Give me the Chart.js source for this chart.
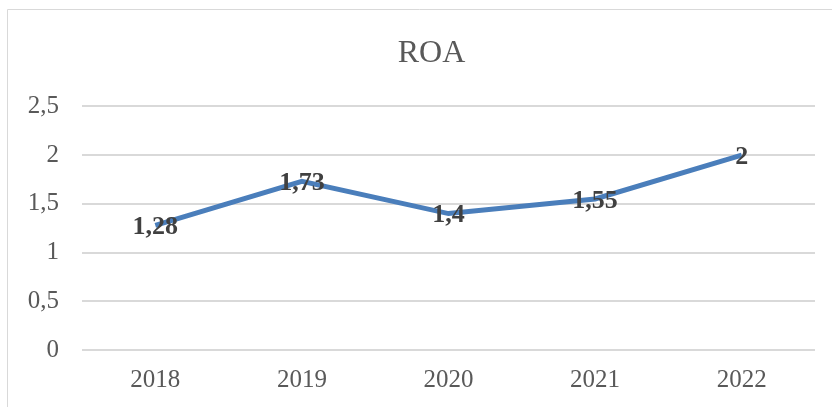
<!DOCTYPE html>
<html>
<head>
<meta charset="utf-8">
<script src="https://cdn.jsdelivr.net/npm/chart.js@4/dist/chart.umd.min.js"></script>
<style>
  html, body { margin: 0; padding: 0; background: #ffffff; }
  #wrap { position: relative; width: 832px; height: 407px; }
</style>
</head>
<body>
<div id="wrap"><canvas id="roaChart" width="832" height="407"></canvas></div>
<script>
// Datos del gráfico
const years = ['2018', '2019', '2020', '2021', '2022'];
const roaValues = [1.28, 1.73, 1.4, 1.55, 2];
const yTicks = [0, 0.5, 1, 1.5, 2, 2.5];

const serif = "'Liberation Serif', 'DejaVu Serif', serif";

// formato con coma decimal
function fmt(v) {
    return String(v).replace('.', ',');
}

// Marco del gráfico (borde izquierdo y superior)
const framePlugin = {
    id: 'frame',
    afterLayout(chart) {
        // el título está centrado sobre todo el marco, no sobre el área del gráfico
        chart.titleBlock.left += 14;
        chart.titleBlock.right += 14;
    },
    beforeDraw(chart) {
        const ctx = chart.ctx;
        ctx.save();
        ctx.strokeStyle = '#d9d9d9';
        ctx.lineWidth = 1;
        ctx.beginPath();
        ctx.moveTo(7.5, 407);
        ctx.lineTo(7.5, 9.5);
        ctx.lineTo(832, 9.5);
        ctx.stroke();
        ctx.restore();
    }
};

// Etiquetas de datos centradas sobre cada punto
const labelPlugin = {
    id: 'valueLabels',
    afterDatasetsDraw(chart) {
        const ctx = chart.ctx;
        const meta = chart.getDatasetMeta(0);
        ctx.save();
        ctx.font = 'bold 26px ' + serif;
        ctx.fillStyle = '#404040';
        ctx.textAlign = 'center';
        ctx.textBaseline = 'middle';
        meta.data.forEach((pt, i) => {
            ctx.fillText(fmt(roaValues[i]), pt.x, pt.y + 2);
        });
        ctx.restore();
    }
};

const roaChart = new Chart(document.getElementById('roaChart').getContext('2d'), {
    type: 'line',
    data: {
        labels: years,
        datasets: [{
            label: 'ROA',
            data: roaValues,
            borderColor: '#4a7ebb',
            borderWidth: 5,
            pointRadius: 0,
            tension: 0,
            fill: false
        }]
    },
    options: {
        responsive: false,
        animation: false,
        layout: { padding: { left: 20, right: 17, top: 0, bottom: 0 } },
        plugins: {
            legend: { display: false },
            tooltip: { enabled: false },
            title: {
                display: true,
                text: 'ROA',
                color: '#595959',
                font: { family: serif, size: 32, weight: 'normal' },
                padding: { top: 34, bottom: 34 }
            }
        },
        scales: {
            x: {
                offset: true,
                grid: { display: false, drawTicks: false },
                border: { display: false },
                ticks: {
                    color: '#595959',
                    font: { family: serif, size: 25 },
                    padding: 15,
                    maxRotation: 0
                },
                afterFit(scale) { scale.height = 57; }
            },
            y: {
                min: 0,
                max: 2.5,
                afterBuildTicks(scale) {
                    scale.ticks = yTicks.map(v => ({ value: v }));
                },
                grid: { color: '#d9d9d9', lineWidth: 2, drawTicks: false },
                border: { display: false },
                ticks: {
                    color: '#595959',
                    font: { family: serif, size: 25 },
                    padding: 23,
                    callback: v => fmt(v)
                },
                afterFit(scale) { scale.width = 62; }
            }
        }
    },
    plugins: [framePlugin, labelPlugin]
});
</script>
</body>
</html>
